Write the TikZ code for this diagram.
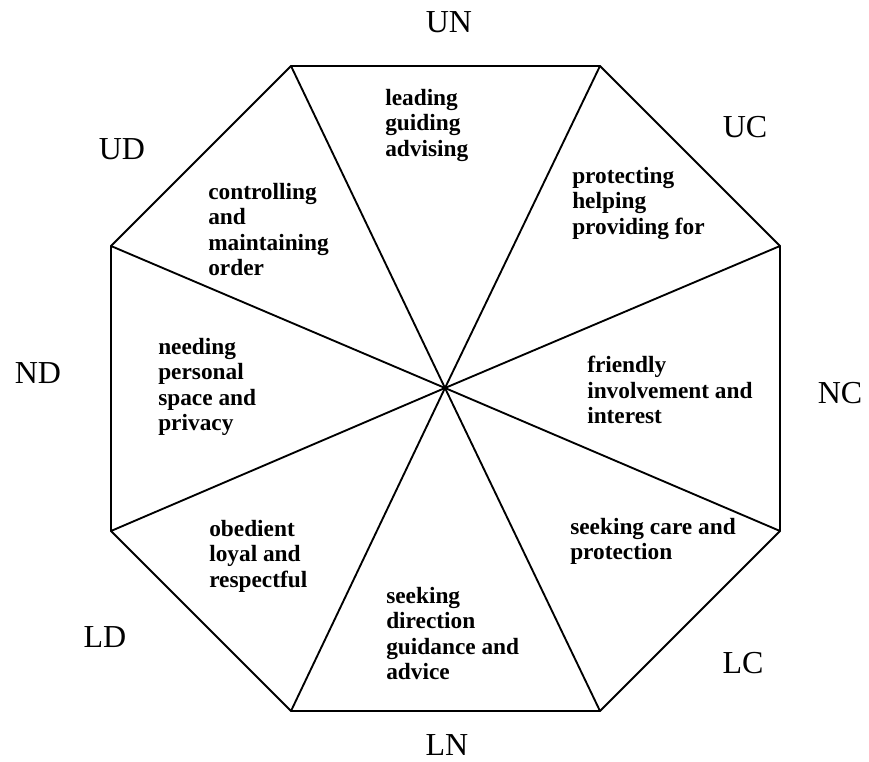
\documentclass[tikz,border=0pt]{standalone}
\usepackage{fontspec}
\setmainfont{Liberation Serif}
\begin{document}
\begin{tikzpicture}[x=0.75pt,y=-0.75pt,
  edge/.style={line width=1.4pt,black,line join=miter},
  sector/.style={anchor=north west,inner sep=0pt,align=left,font=\fontsize{17.5}{19}\selectfont\bfseries},
  dir/.style={inner sep=0pt,font=\fontsize{24}{28}\selectfont}]
\useasboundingbox (0,0) rectangle (869,762);
\coordinate (c) at (445,388);
\coordinate (v1) at (291,66);
\coordinate (v2) at (600,66);
\coordinate (v3) at (780,246);
\coordinate (v4) at (780,531);
\coordinate (v5) at (600,711);
\coordinate (v6) at (291,711);
\coordinate (v7) at (111,531);
\coordinate (v8) at (111,246);
\draw[edge] (v1) -- (v2) -- (v3) -- (v4) -- (v5) -- (v6) -- (v7) -- (v8) -- cycle;
\foreach \v in {v1,v2,v3,v4,v5,v6,v7,v8} \draw[edge] (c) -- (\v);
\node[sector] (t1) at (385,89) {leading\\guiding\\advising};
\node[sector] (t2) at (572,167) {protecting\\helping\\providing for};
\node[sector] (t3) at (208,183) {controlling\\and\\maintaining\\order};
\node[sector] (t4) at (158,338) {needing\\personal\\space and\\privacy};
\node[sector] (t5) at (587,356) {friendly\\involvement and\\interest};
\node[sector] (t6) at (209,520) {obedient\\loyal and\\respectful};
\node[sector] (t7) at (570,518) {seeking care and\\protection};
\node[sector] (t8) at (386,587) {seeking\\direction\\guidance and\\advice};
\node[dir] (UN) at (449,22) {UN};
\node[dir] (UC) at (745,127) {UC};
\node[dir] (NC) at (840,393) {NC};
\node[dir] (LC) at (743,663) {LC};
\node[dir] (LN) at (447,745) {LN};
\node[dir] (LD) at (105,637) {LD};
\node[dir] (ND) at (38,373) {ND};
\node[dir] (UD) at (122,149) {UD};
\end{tikzpicture}
\end{document}
